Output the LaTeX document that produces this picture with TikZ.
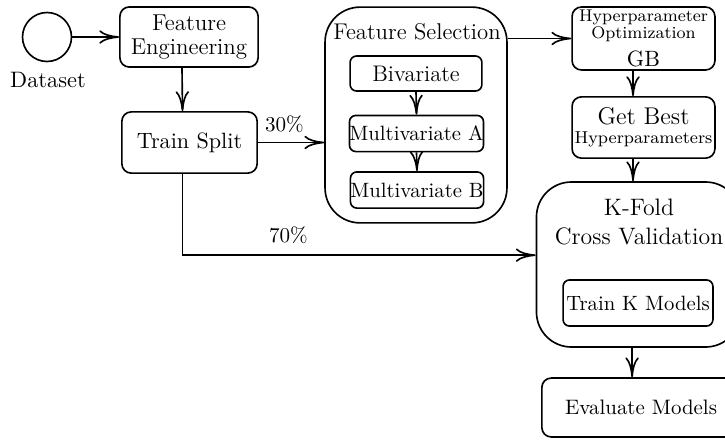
\documentclass[tikz,border=0pt]{standalone}
\usetikzlibrary{arrows.meta,positioning}
\tikzset{
  box/.style      = {draw, rounded corners=0.16cm, line width=0.8pt, align=center,
                     inner sep=0pt, font=\fontsize{10.8}{12.5}\selectfont},
  innerbox/.style = {box, rounded corners=0.11cm},
  bigbox/.style   = {draw, rounded corners=0.6cm, line width=0.8pt},
  conn/.style     = {line width=0.8pt, -{Computer Modern Rightarrow[length=3.4mm,width=2.3mm]}},
  lbl/.style      = {font=\fontsize{10.3}{12}\selectfont},
  biglbl/.style   = {align=center, font=\fontsize{11.6}{14}\selectfont}
}
\begin{document}
\begin{tikzpicture}[x=0.01715cm, y=-0.01715cm]
    \useasboundingbox (0,0) rectangle (725,440);

    % ----- Start -----
    \node[circle, draw, line width=0.8pt, minimum size=0.84cm] (data) at (47,37) {};
    \node[lbl, font=\fontsize{10.9}{12}\selectfont] (datalbl) at (48,80) {Dataset};

    \node[box, minimum width=2.37cm, minimum height=1.03cm,
          font=\fontsize{11.2}{11.8}\selectfont] (fe) at (189,37) {Feature\\Engineering};
    \node[box, minimum width=2.32cm, minimum height=1.05cm] (ts) at (189.5,142.5) {Train Split};

    % ----- Feature selection -----
    \node[bigbox, minimum width=3.12cm, minimum height=3.70cm] (fs) at (416,115) {};
    \node[biglbl, font=\fontsize{11.1}{13}\selectfont] (fstitle) at (417,32) {Feature Selection};
    \node[innerbox, minimum width=2.26cm, minimum height=0.60cm,
          font=\fontsize{11}{12}\selectfont] (biv) at (416,73.5) {Bivariate};
    \node[innerbox, minimum width=2.28cm, minimum height=0.62cm,
          font=\fontsize{10.1}{12}\selectfont] (mva) at (416.5,133.5) {Multivariate A};
    \node[innerbox, minimum width=2.28cm, minimum height=0.62cm,
          font=\fontsize{10.1}{12}\selectfont] (mvb) at (417,190) {Multivariate B};

    % ----- Hyperparameters -----
    \node[box, minimum width=2.45cm, minimum height=1.08cm] (hyp) at (643.5,38.5)
      {{\fontsize{8.3}{9}\selectfont Hyperparameter}\\[-4pt]{\fontsize{8.3}{9}\selectfont Optimization}\\[1pt]GB};
    \node[box, minimum width=2.45cm, minimum height=1.05cm] (best) at (643.5,127.5)
      {{\fontsize{11.8}{12}\selectfont Get Best}\\[-3pt]{\fontsize{8.4}{9}\selectfont Hyperparameters}};

    % ----- Validation -----
    \node[bigbox, minimum width=3.50cm, minimum height=2.83cm] (kfold) at (638.5,264.5) {};
    \node[biglbl] (kfoldtitle) at (639,222) {K-Fold\\Cross Validation};
    \node[innerbox, minimum width=2.57cm, minimum height=0.79cm,
          font=\fontsize{10.1}{12}\selectfont] (traink) at (638,303) {Train K Models};
    \node[box, minimum width=3.40cm, minimum height=1.01cm,
          font=\fontsize{10.2}{12}\selectfont] (eval) at (641,407.5) {Evaluate Models};

    % ----- Connections -----
    \draw[conn] (data.east) -- (fe.west);
    \draw[conn] ([xshift=-0.12cm]fe.south) -- ([xshift=-0.12cm]ts.north);
    \draw[conn] (ts.east) -- (ts.east -| fs.west)
      node[lbl, pos=0.4, above=1pt] (pthirty) {30\%};
    \draw[conn] ([xshift=-0.12cm]ts.south) |- ([yshift=0.16cm]kfold.west)
      node[lbl, pos=0.65, above=2pt] (pseventy) {70\%};
    \draw[conn] (biv.south) -- (mva.north);
    \draw[conn] (mva.south) -- (mvb.north);
    \draw[conn] (hyp.west -| fs.east) -- (hyp.west);
    \draw[conn] ([xshift=-0.18cm]hyp.south) -- ([xshift=-0.18cm]best.north);
    \draw[conn] ([xshift=-0.18cm]best.south) -- ([xshift=-0.18cm]best.south |- kfold.north);
    \draw[conn] ([xshift=-0.11cm]kfold.south) -- ([xshift=-0.11cm]kfold.south |- eval.north);
\end{tikzpicture}
\end{document}
